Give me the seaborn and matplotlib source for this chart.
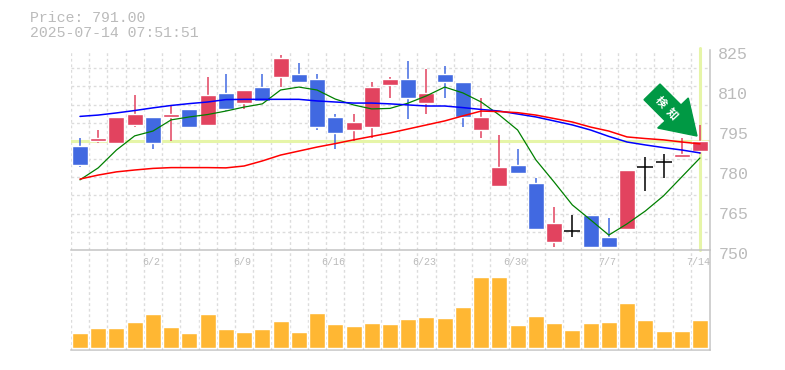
import matplotlib
matplotlib.use("Agg")
import matplotlib.pyplot as plt
from matplotlib.patches import Polygon
from matplotlib.transforms import ScaledTranslation
import numpy as np
import pandas as pd
import seaborn as sns

# Data
opens = [789, 791, 790, 797, 800, 800, 803, 797, 809, 805, 811, 815, 816, 814, 800, 795, 796, 812,
         814, 805, 816, 813, 795, 774, 782, 775, 753, 757, 763, 755, 758, 781, 783, 785, 787]
closes = [782, 792, 800, 801, 790, 801, 796, 808, 803, 810, 806, 822, 813, 796, 794, 798, 811, 814,
          807, 809, 813, 800, 800, 781, 779, 758, 760, 757, 751, 751, 780, 781, 783, 786, 791]
highs = [792, 795, 800, 808, 800, 804, 803, 815, 816, 810, 816, 823, 820, 816, 801, 801, 813, 815,
         821, 818, 819, 813, 807, 793, 788, 777, 766, 763, 763, 762, 780, 785, 786, 792, 797]
lows = [781, 790, 790, 796, 788, 791, 796, 797, 802, 803, 806, 811, 813, 795, 788, 791, 792, 807,
        799, 801, 807, 796, 792, 774, 779, 758, 751, 755, 751, 751, 758, 772, 777, 785, 786]
ma_short = [776.3, 780.8, 787.5, 792.8, 794.6, 798.8, 799.9, 800.8, 802.1, 803.6, 804.8, 810.0,
            811.1, 810.0, 806.6, 804.4, 802.9, 803.1, 805.1, 807.8, 811.1, 808.9, 805.5, 800.6,
            795.0, 783.8, 775.5, 766.9, 761.3, 755.6, 759.8, 764.6, 770.3, 777.4, 784.5]
ma_mid = [800.1, 800.6, 801.4, 802.3, 803.3, 804.2, 804.9, 805.5, 806.4, 806.5, 806.5, 806.5,
          806.5, 805.9, 805.5, 805.1, 805.1, 804.8, 804.4, 804.0, 804.0, 803.4, 802.7, 802.1,
          801.0, 799.9, 798.4, 796.9, 795.0, 792.6, 790.5, 789.4, 788.4, 787.5, 786.4]
ma_long = [776.6, 778.1, 779.3, 780.0, 780.6, 780.9, 780.9, 780.9, 780.8, 781.5, 783.4, 785.6,
           787.1, 788.6, 789.9, 791.3, 792.6, 793.9, 795.4, 796.9, 798.4, 800.3, 802.1, 801.9,
           801.5, 800.6, 799.3, 798.0, 796.1, 794.6, 792.4, 791.8, 791.3, 790.5, 789.8]
volume = [15, 20, 20, 26, 34, 21, 15, 34, 19, 16, 19, 27, 16, 35, 24, 22, 25, 24,
          29, 31, 30, 41, 71, 71, 23, 32, 25, 18, 25, 26, 45, 28, 17, 17, 28]
date_labels = ["6/2", "6/9", "6/16", "6/23", "6/30", "7/7", "7/14"]
date_index = [4, 9, 14, 19, 24, 29, 34]
price_ticks = [750, 765, 780, 795, 810, 825]
last_price = 791

W, H = 785, 370
BLUE = "#4169e1"
RED = "#e2435f"
GRID = "#dcdcdc"
AXIS = "#c4c4c4"
TEXT = "#bbbbbb"
LIME = "#e6f5a8"

df = pd.DataFrame({"i": np.arange(len(opens)), "open": opens, "close": closes, "high": highs,
                   "low": lows, "short": ma_short, "mid": ma_mid, "long": ma_long, "vol": volume})
df["top"] = df[["open", "close"]].max(axis=1)
df["bottom"] = df[["open", "close"]].min(axis=1)
df["color"] = np.where(df["close"] > df["open"], RED, np.where(df["close"] < df["open"], BLUE, "black"))

sns.set_style("white")
plt.rcParams["font.family"] = ["Liberation Mono", "Noto Sans CJK JP", "DejaVu Sans"]

fig = plt.figure(figsize=(W / 100, H / 100), dpi=100)


def panel(left, top, right, bottom):
    return fig.add_axes([left / W, 1 - bottom / H, (right - left) / W, (bottom - top) / H])


ax = panel(70.5, 50, 710, 250)
ax_vol = panel(70.5, 250, 710, 350)
ax.set_zorder(2)

xlim = (-0.52, 34.55)
width = 16 / 18.235

# grid goes between the candles
for a in (ax, ax_vol):
    a.set_xlim(xlim)
    a.set_xticks(np.arange(len(opens)) - 0.5, minor=True)
    a.grid(True, which="minor", axis="x", color=GRID, lw=1, ls=(0, (2, 2)))
    a.tick_params(which="both", length=0)
    a.set_axisbelow(True)

# price panel
ax.set_ylim(750, 825)
ax.set_yticks(np.linspace(750, 825, 12), minor=True)
ax.grid(True, which="minor", axis="y", color=GRID, lw=1, ls=(0, (2, 2)))
ax.axhline(last_price, color=LIME, lw=2.2, zorder=1)
ax.plot([34, 34], [750, 825.8], color=LIME, lw=2.2, zorder=1, clip_on=False)

for _, r in df.iterrows():
    ax.vlines(r["i"], r["low"], r["high"], color=r["color"], lw=1.1, zorder=2)
doji = df[df["top"] == df["bottom"]]
body = df[df["top"] > df["bottom"]]
ax.bar(body["i"], body["top"] - body["bottom"], bottom=body["bottom"], width=width, color=body["color"], zorder=3)
ax.hlines(doji["top"], doji["i"] - width / 2, doji["i"] + width / 2, color="black", lw=1.1, zorder=3)

sns.lineplot(data=df, x="i", y="short", color="green", lw=0.9, ax=ax, zorder=4)
sns.lineplot(data=df, x="i", y="mid", color="blue", lw=1.1, ax=ax, zorder=4)
sns.lineplot(data=df, x="i", y="long", color="red", lw=1.1, ax=ax, zorder=4)
ax.set_xlabel("")
ax.set_ylabel("")

ax.yaxis.tick_right()
ax.set_yticks(price_ticks)
ax.set_yticklabels(price_ticks, fontsize=12, color=TEXT)
ax.tick_params(axis="y", which="major", pad=6)
ax.set_xticks(date_index)
ax.set_xticklabels(date_labels, fontsize=7.2, color=TEXT)
ax.tick_params(axis="x", which="major", pad=5)
for lab in ax.get_yticklabels():
    lab.set_transform(lab.get_transform() + ScaledTranslation(0, -3 / 100, fig.dpi_scale_trans))
for lab in ax.get_xticklabels():
    lab.set_transform(lab.get_transform() + ScaledTranslation(-2 / 100, 0, fig.dpi_scale_trans))

for side in ("top", "left"):
    ax.spines[side].set_visible(False)
for side in ("right", "bottom"):
    ax.spines[side].set_color(AXIS)
    ax.spines[side].set_linewidth(1.1)

# volume panel
sns.barplot(data=df, x="i", y="vol", native_scale=True, color="#ffb733", width=width, saturation=1, ax=ax_vol, zorder=3)
ax_vol.set_xlim(xlim)
ax_vol.set_ylim(-2, 98)
ax_vol.set_yticks([])
ax_vol.set_xticks([])
ax_vol.set_xlabel("")
ax_vol.set_ylabel("")
for side in ("top", "left"):
    ax_vol.spines[side].set_visible(False)
for side in ("right", "bottom"):
    ax_vol.spines[side].set_color(AXIS)
    ax_vol.spines[side].set_linewidth(1.1)

# header text
fig.text(30 / W, 1 - 18 / H, "Price: 791.00", fontsize=10.7, color=TEXT, va="center")
fig.text(30 / W, 1 - 33 / H, "2025-07-14 07:51:51", fontsize=10.7, color=TEXT, va="center")

# green signal arrow
arrow_px = [(660, 84), (681, 105), (688.3, 98), (697, 136), (657.7, 128), (665.3, 121), (644, 99.7)]
fig.add_artist(Polygon([(x / W, 1 - y / H) for x, y in arrow_px], closed=True, color="#009944",
                       transform=fig.transFigure, zorder=5))
for ch, (px, py) in zip("検知", [(661, 102), (672, 114)]):
    fig.text(px / W, 1 - py / H, ch, fontsize=8, color="white", fontweight="bold", rotation=-47,
             ha="center", va="center", rotation_mode="anchor", zorder=6, family=["Noto Sans CJK JP"])

fig.savefig("out.png", dpi=100)
